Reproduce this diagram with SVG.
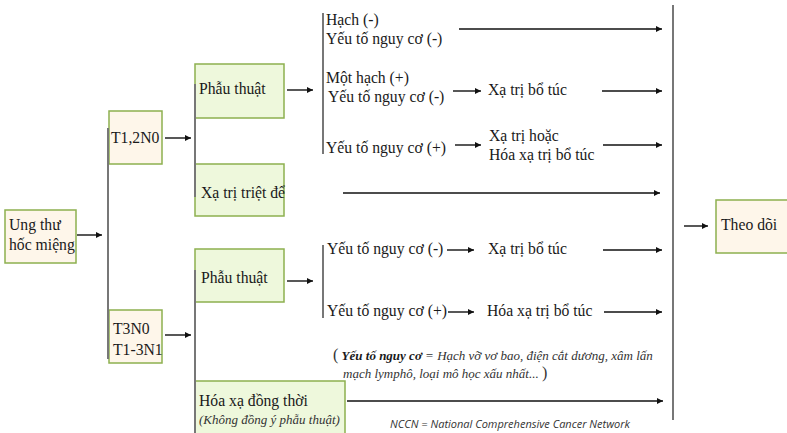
<svg xmlns="http://www.w3.org/2000/svg" width="787" height="433" viewBox="0 0 787 433">
<defs>
<marker id="ah" viewBox="0 0 10 10" refX="10" refY="5" markerWidth="6" markerHeight="6" markerUnits="userSpaceOnUse" orient="auto">
<path d="M0,0 L10,5 L0,10 z" fill="#111"/>
</marker>
<style>
text.t{font-size:15.7px;fill:#1a1a1a}
.cream{fill:#fef6ea;stroke:#8db04f;stroke-width:1.5}
.green{fill:#eef8dc;stroke:#8db04f;stroke-width:1.5}
.br{stroke:#777;stroke-width:2;fill:none}
.ar{stroke:#111;stroke-width:1.4;fill:none;marker-end:url(#ah)}
text.note{font-size:13px;font-style:italic;fill:#333}
text.nccn{font-size:11px;font-style:italic;fill:#333}
</style>
</defs>
<rect width="787" height="433" fill="#fff"/>

<g font-family="Liberation Serif, serif">
<g id="n-ungthu"><rect class="cream" x="5" y="210" width="71" height="53"/><text class="t" x="9" y="230">Ung thư</text><text class="t" x="9" y="250">hốc miệng</text></g>
<g id="n-t12n0"><rect class="cream" x="109" y="111" width="53" height="53"/><text class="t" x="111" y="143">T1,2N0</text></g>
<g id="n-t3n0"><rect class="cream" x="109" y="310" width="53" height="53"/><text class="t" x="113" y="334">T3N0</text><text class="t" x="113" y="355">T1-3N1</text></g>
<g id="n-pt1"><rect class="green" x="195" y="64" width="89" height="54"/><text class="t" x="199" y="94">Phẫu thuật</text></g>
<g id="n-xatriet"><rect class="green" x="195" y="164" width="89" height="52"/><text class="t" x="201" y="198">Xạ trị triệt để</text></g>
<g id="n-pt2"><rect class="green" x="195" y="249" width="89" height="53"/><text class="t" x="201" y="283">Phẫu thuật</text></g>
<g id="n-hoaxa"><rect class="green" x="195" y="381" width="150" height="55"/><text class="t" x="199" y="406">Hóa xạ đồng thời</text><text class="note" x="199" y="424">(Không đồng ý phẫu thuật)</text></g>
<g id="n-theodoi"><rect class="cream" x="716" y="200" width="74" height="53"/><text class="t" x="721" y="230">Theo dõi</text></g>

<g id="n-labels">
<text class="t" x="326" y="25">Hạch (-)</text>
<text class="t" x="326" y="44">Yếu tố nguy cơ (-)</text>
<text class="t" x="326" y="83">Một hạch (+)</text>
<text class="t" x="328" y="102">Yếu tố nguy cơ (-)</text>
<text class="t" x="326" y="153">Yếu tố nguy cơ (+)</text>
<text class="t" x="488" y="95">Xạ trị bổ túc</text>
<text class="t" x="489" y="141">Xạ trị hoặc</text>
<text class="t" x="489" y="160">Hóa xạ trị bổ túc</text>
<text class="t" x="327" y="254">Yếu tố nguy cơ (-)</text>
<text class="t" x="488" y="254">Xạ trị bổ túc</text>
<text class="t" x="327" y="316">Yếu tố nguy cơ (+)</text>
<text class="t" x="487" y="316">Hóa xạ trị bổ túc</text>
<text class="note" x="333" y="360"><tspan style="font-style:normal;font-size:16px">(</tspan> <tspan font-weight="bold" fill="#1a1a1a">Yếu tố nguy cơ</tspan> = Hạch vỡ vơ bao, điện cắt dương, xâm lấn</text>
<text class="note" x="343" y="378">mạch lymphô, loại mô học xấu nhất... <tspan style="font-style:normal;font-size:16px">)</tspan></text>
</g>
</g>
<text class="nccn" font-family="Open Sans, sans-serif" x="390" y="428">NCCN = National Comprehensive Cancer Network</text>

<g id="connectors">
<line class="br" x1="108" y1="128" x2="108" y2="359"/>
<line class="br" x1="195" y1="84" x2="195" y2="197"/>
<line class="br" x1="195" y1="270" x2="195" y2="433"/>
<line class="br" x1="323" y1="13" x2="323" y2="154"/>
<line class="br" x1="323" y1="245" x2="323" y2="318"/>
<line class="br" x1="673" y1="5" x2="673" y2="420"/>
<line class="ar" x1="77" y1="235" x2="102" y2="235"/>
<line class="ar" x1="165" y1="138" x2="191" y2="138"/>
<line class="ar" x1="165" y1="335" x2="191" y2="335"/>
<line class="ar" x1="287" y1="90" x2="313" y2="90"/>
<line class="ar" x1="287" y1="281" x2="313" y2="281"/>
<line class="ar" x1="459" y1="29" x2="662" y2="29"/>
<line class="ar" x1="453" y1="91" x2="481" y2="91"/>
<line class="ar" x1="602" y1="91" x2="662" y2="91"/>
<line class="ar" x1="455" y1="145" x2="481" y2="145"/>
<line class="ar" x1="603" y1="145" x2="662" y2="145"/>
<line class="ar" x1="343" y1="193" x2="660" y2="193"/>
<line class="ar" x1="447" y1="250" x2="474" y2="250"/>
<line class="ar" x1="603" y1="250" x2="662" y2="250"/>
<line class="ar" x1="448" y1="312" x2="474" y2="312"/>
<line class="ar" x1="604" y1="312" x2="662" y2="312"/>
<line class="ar" x1="347" y1="401" x2="663" y2="401"/>
<line class="ar" x1="684" y1="226" x2="708" y2="226"/>
</g>
</svg>
